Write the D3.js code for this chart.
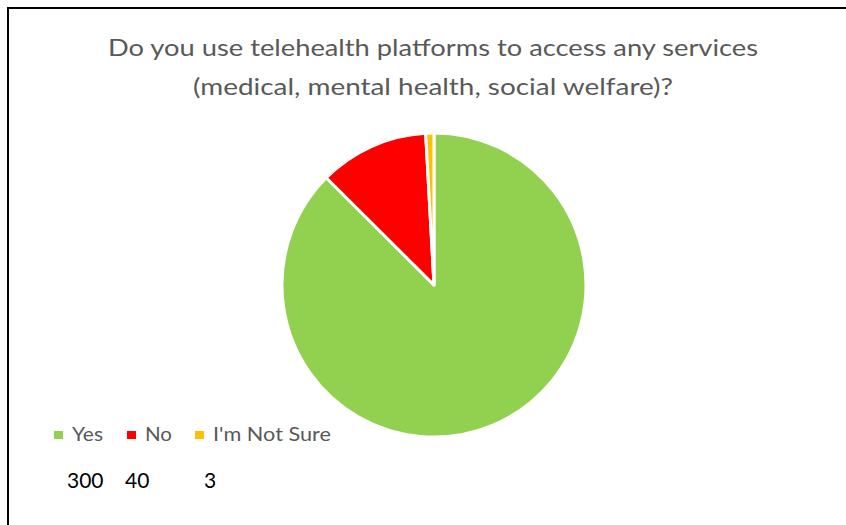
<!DOCTYPE html>
<html>
<head>
<meta charset="utf-8">
<script src="https://cdn.jsdelivr.net/npm/d3@7/dist/d3.min.js"></script>
<style>
  html, body { margin: 0; padding: 0; background: #fff; }
  svg { display: block; }
</style>
</head>
<body>
<svg id="chart" width="846" height="525"></svg>
<script>
// Survey answers
const categories = ["Yes", "No", "I'm Not Sure"];
const counts = [300, 40, 3];
const colors = ["#92D050", "#FF0000", "#FFC000"];
const titleLines = [
  "Do you use telehealth platforms to access any services",
  "(medical, mental health, social welfare)?"
];

const svg = d3.select("#chart");
const font = "Lato, Carlito, 'Open Sans', sans-serif";

// Chart frame (runs past the right and bottom edges)
svg.append("rect")
  .attr("x", 8).attr("y", 8)
  .attr("width", 900).attr("height", 600)
  .attr("fill", "#fff")
  .attr("stroke", "#000")
  .attr("stroke-width", 2);

// Title
const titleWidths = [650, 480];
titleLines.forEach((t, i) => {
  svg.append("text")
    .attr("x", 433)
    .attr("y", 56 + i * 39)
    .attr("text-anchor", "middle")
    .attr("font-family", font)
    .attr("font-size", 24)
    .attr("fill", "#595959")
    .attr("textLength", titleWidths[i])
    .attr("lengthAdjust", "spacingAndGlyphs")
    .text(t);
});

// Pie
const cx = 434, cy = 285, r = 152;
const pie = d3.pie().sort(null).value(d => d)(counts);
const arc = d3.arc().innerRadius(0).outerRadius(r);
const color = d3.scaleOrdinal().domain(categories).range(colors);

svg.append("g")
  .attr("transform", `translate(${cx},${cy})`)
  .selectAll("path")
  .data(pie)
  .join("path")
  .attr("d", arc)
  .attr("fill", (d, i) => color(categories[i]))
  .attr("stroke", "#fff")
  .attr("stroke-width", 3)
  .attr("stroke-linejoin", "round");

// Legend
const legendX = [54, 127, 195];
const legendTextWidths = [31, 27, 118];
const legend = svg.append("g");
categories.forEach((c, i) => {
  legend.append("rect")
    .attr("x", legendX[i]).attr("y", 431)
    .attr("width", 9).attr("height", 8)
    .attr("fill", color(c));
  legend.append("text")
    .attr("x", legendX[i] + 18)
    .attr("y", 441)
    .attr("font-family", font)
    .attr("font-size", 20)
    .attr("fill", "#595959")
    .attr("textLength", legendTextWidths[i])
    .attr("lengthAdjust", "spacingAndGlyphs")
    .text(c);
});

// Counts row
const countX = [67, 125, 204];
counts.forEach((v, i) => {
  svg.append("text")
    .attr("x", countX[i])
    .attr("y", 488)
    .attr("font-family", font)
    .attr("font-size", 21)
    .attr("fill", "#000")
    .text(v);
});
</script>
</body>
</html>
